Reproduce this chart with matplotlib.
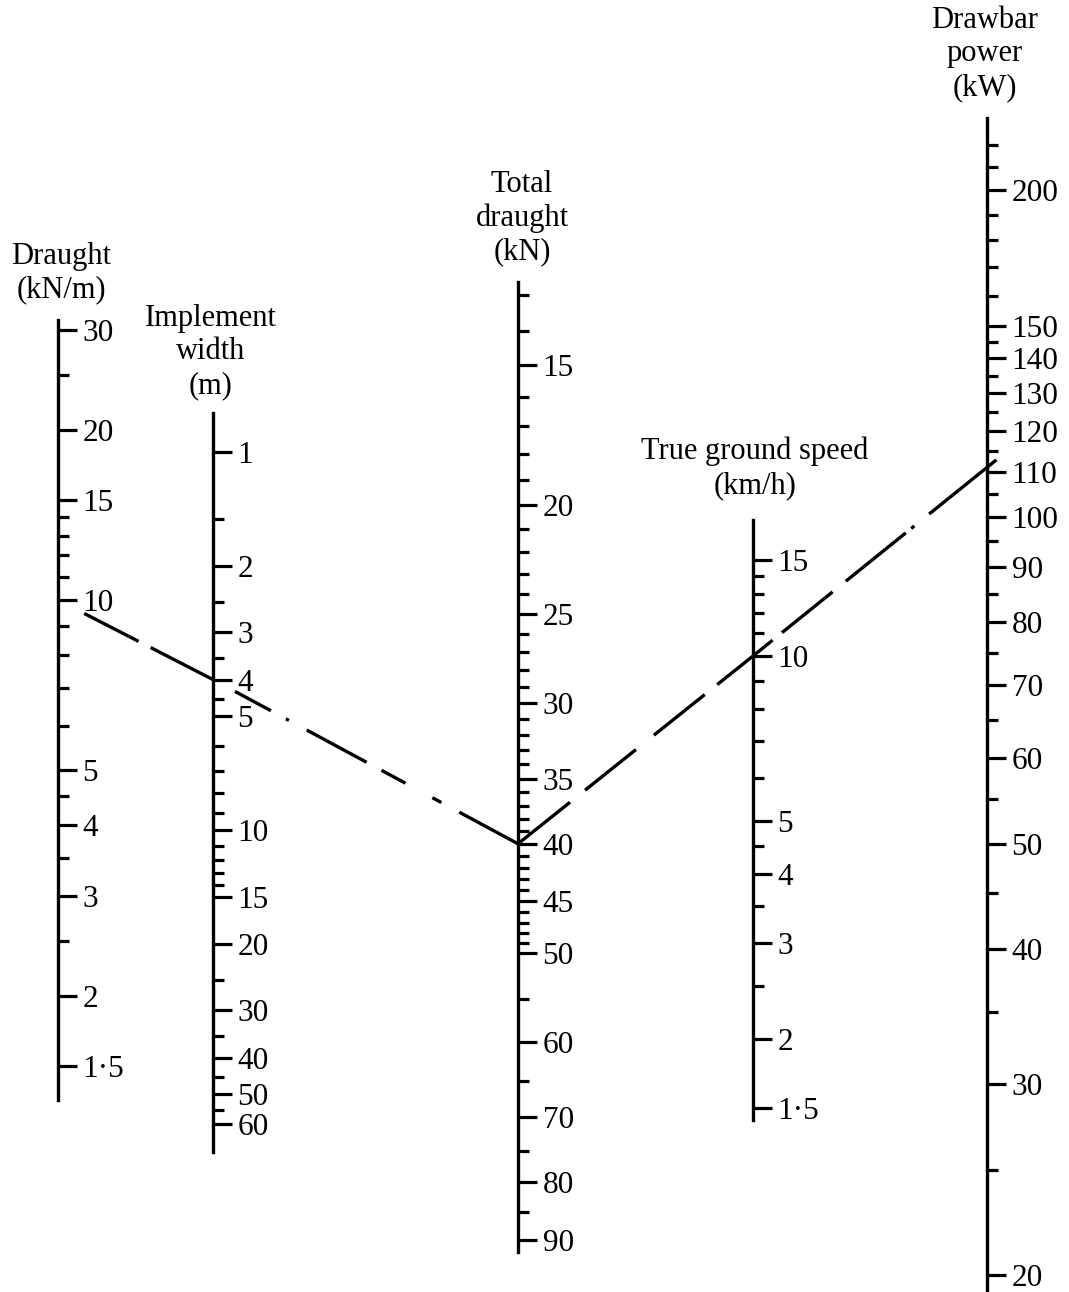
import numpy as np
import matplotlib
matplotlib.use('Agg')
import matplotlib.pyplot as plt
from matplotlib.ticker import NullFormatter

plt.rcParams['font.family'] = ['Liberation Serif', 'DejaVu Serif']
plt.rcParams['lines.scale_dashes'] = False

W, H = 1069, 1292

# ---------------- data ----------------
draught_major = [30, 20, 15, 10, 5, 4, 3, 2, 1.5]
draught_labels = ['30', '20', '15', '10', '5', '4', '3', '2', '1·5']
draught_minor = [25, 14, 13, 12, 11, 9, 8, 7, 6, 4.5, 3.5, 2.5]

width_major = [1, 2, 3, 4, 5, 10, 15, 20, 30, 40, 50, 60]
width_labels = ['1', '2', '3', '4', '5', '10', '15', '20', '30', '40', '50', '60']
width_minor = [1.5, 2.5, 3.5, 4.5, 6, 7, 8, 9, 11, 12, 13, 14, 25, 35, 45, 55]

total_major = [15, 20, 25, 30, 35, 40, 45, 50, 60, 70, 80, 90]
total_labels = ['15', '20', '25', '30', '35', '40', '45', '50', '60', '70', '80', '90']
total_minor = [13, 14, 16, 17, 18, 19, 21, 22, 23, 24, 26, 27, 28, 29,
               31, 32, 33, 34, 36, 37, 38, 39, 41, 42, 43, 44,
               46, 47, 48, 49, 55, 65, 75, 85]

speed_major = [15, 10, 5, 4, 3, 2, 1.5]
speed_labels = ['15', '10', '5', '4', '3', '2', '1·5']
speed_minor = [14, 13, 12, 11, 9, 8, 7, 6, 4.5, 3.5, 2.5]

power_major = [200, 150, 140, 130, 120, 110, 100, 90, 80, 70, 60, 50, 40, 30, 20]
power_labels = ['200', '150', '140', '130', '120', '110', '100', '90', '80',
                '70', '60', '50', '40', '30', '20']
power_minor = [220, 210, 190, 180, 170, 160, 145, 135, 125, 115, 105,
               95, 85, 75, 65, 55, 45, 35, 25]

# worked example (draught x width = total draught; total x speed = power)
ex_draught = 10
ex_width = 4
ex_total = 40
ex_speed = 10
ex_power = 111.1

titles = ['Draught\n(kN/m)', 'Implement\nwidth\n(m)', 'Total\ndraught\n(kN)',
          'True ground speed\n(km/h)', 'Drawbar\npower\n(kW)']

# ---------------- layout (pixels) ----------------
# x_line, y_top, y_bot, anchor value, anchor y, px per decade, increases upward
lay_draught = (58, 320, 1100, 10, 600, 566, True)
lay_width = (213, 413, 1152, 1, 452, 378, False)
lay_total = (518, 282, 1252, 15, 365, 1124, False)
lay_speed = (753, 520, 1120, 10, 656, 548, True)
lay_power = (987, 118, 1292, 100, 517, 1085, True)
title_pos = [(61, 242), (211, 304), (522, 170), (755, 437), (985, 6)]

fig = plt.figure(figsize=(W / 100, H / 100), dpi=100)
fig.patch.set_facecolor('white')


def v_at(y, av, ay, ppd, up):
    s = 1 if up else -1
    return av * 10 ** (s * (ay - y) / ppd)


def make_scale(lay, major, labels, minor):
    x, ytop, ybot, av, ay, ppd, up = lay
    ax = fig.add_axes([(x - 2) / W, (H - ybot) / H, 2 / W, (ybot - ytop) / H])
    ax.set_yscale('log')
    ax.set_xlim(0, 1)
    ax.set_ylim(v_at(ybot, av, ay, ppd, up), v_at(ytop, av, ay, ppd, up))
    for s in ['left', 'top', 'bottom']:
        ax.spines[s].set_visible(False)
    ax.spines['right'].set_linewidth(2.4)
    ax.patch.set_visible(False)
    ax.xaxis.set_visible(False)
    ax.yaxis.tick_right()
    ax.set_yticks(major, labels=labels)
    ax.set_yticks(minor, minor=True)
    ax.yaxis.set_minor_formatter(NullFormatter())
    ax.tick_params(axis='y', which='major', direction='out', length=13.7,
                   width=2.3, pad=4.0, labelsize=22.5, colors='black')
    ax.tick_params(axis='y', which='minor', direction='out', length=8,
                   width=2.3, colors='black')
    return ax


ax_d = make_scale(lay_draught, draught_major, draught_labels, draught_minor)
ax_w = make_scale(lay_width, width_major, width_labels, width_minor)
ax_t = make_scale(lay_total, total_major, total_labels, total_minor)
ax_s = make_scale(lay_speed, speed_major, speed_labels, speed_minor)
ax_p = make_scale(lay_power, power_major, power_labels, power_minor)

ov = fig.add_axes([0, 0, 1, 1])
ov.set_xlim(0, W)
ov.set_ylim(H, 0)
ov.axis('off')
ov.patch.set_visible(False)

for t, (tx, ty) in zip(titles, title_pos):
    ov.text(tx, ty, t, ha='center', va='top', fontsize=22,
            multialignment='center', color='black')


def pt(ax, v):
    disp = ax.transData.transform((1.0, v))
    return ov.transData.inverted().transform(disp)


p1 = pt(ax_d, ex_draught)
p2 = pt(ax_w, ex_width)
p3 = pt(ax_t, ex_total)
p4 = pt(ax_s, ex_speed)
p5 = pt(ax_p, ex_power)
p6 = p5 + 0.02 * (p5 - p3)

k = 0.72  # px -> pt
dash_left = [0.01, 29.4, 61.2, 13.5, 71.4, 23.7, 40.8, 17, 3.4, 20.3, 68, 16.9,
             27.2, 30.6, 10.2, 20.4, 120, 50]
dash_right = [66.6, 19.2, 65.2, 23, 65, 16, 71, 12, 65, 17, 77, 7, 4, 19, 120, 50]

left = np.array([p1, p2, p3])
right = np.array([p3, p4, p6])
ov.plot(left[:, 0], left[:, 1], color='black', lw=2.4,
        linestyle=(0, [d * k for d in dash_left]), dash_capstyle='butt')
ov.plot(right[:, 0], right[:, 1], color='black', lw=2.4,
        linestyle=(0, [d * k for d in dash_right]), dash_capstyle='butt')

fig.savefig('out.png', dpi=100, facecolor='white')
